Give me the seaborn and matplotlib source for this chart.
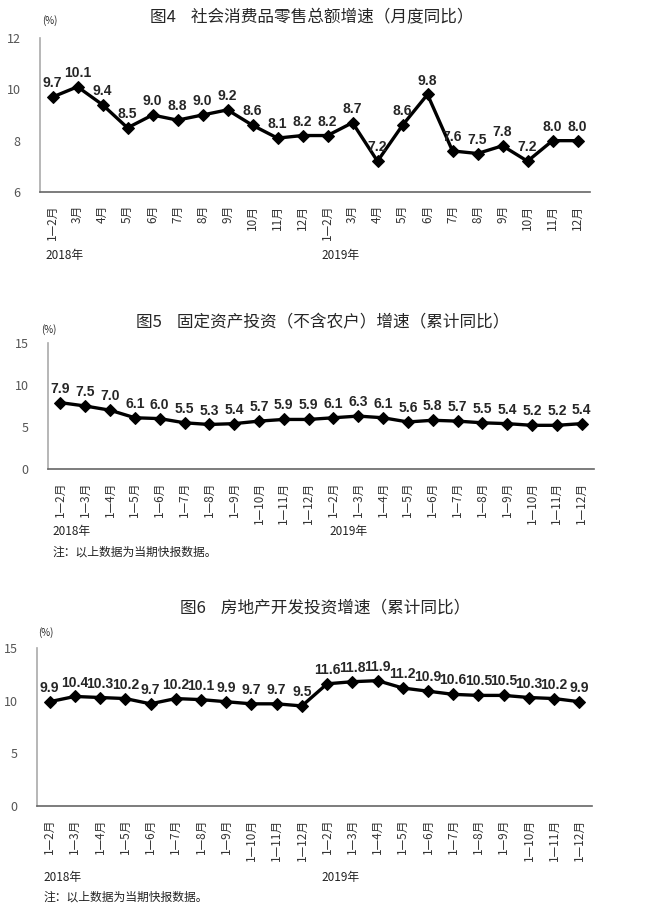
import numpy as np
import matplotlib
matplotlib.use('Agg')
import matplotlib.pyplot as plt
from matplotlib import font_manager
import seaborn as sns
import pandas as pd

sns.set_style('white')
plt.rcParams['font.family'] = ['Noto Sans CJK SC', 'DejaVu Sans']

# narrow font for the value labels, if there is one
names = {f.name for f in font_manager.fontManager.ttflist}
lab_font = 'Liberation Sans Narrow' if 'Liberation Sans Narrow' in names else 'Liberation Sans'
lab_size = 11 if lab_font == 'Liberation Sans Narrow' else 10

# data
months4 = ['1—2月', '3月', '4月', '5月', '6月', '7月', '8月', '9月', '10月', '11月', '12月'] * 2
months_cum = ['1—2月', '1—3月', '1—4月', '1—5月', '1—6月', '1—7月', '1—8月', '1—9月',
              '1—10月', '1—11月', '1—12月'] * 2
retail = [9.7, 10.1, 9.4, 8.5, 9.0, 8.8, 9.0, 9.2, 8.6, 8.1, 8.2,
          8.2, 8.7, 7.2, 8.6, 9.8, 7.6, 7.5, 7.8, 7.2, 8.0, 8.0]
fixed_inv = [7.9, 7.5, 7.0, 6.1, 6.0, 5.5, 5.3, 5.4, 5.7, 5.9, 5.9,
             6.1, 6.3, 6.1, 5.6, 5.8, 5.7, 5.5, 5.4, 5.2, 5.2, 5.4]
estate = [9.9, 10.4, 10.3, 10.2, 9.7, 10.2, 10.1, 9.9, 9.7, 9.7, 9.5,
          11.6, 11.8, 11.9, 11.2, 10.9, 10.6, 10.5, 10.5, 10.3, 10.2, 9.9]

titles = ['图4    社会消费品零售总额增速（月度同比）',
          '图5    固定资产投资（不含农户）增速（累计同比）',
          '图6    房地产开发投资增速（累计同比）']
note = '注：以上数据为当期快报数据。'

fig = plt.figure(figsize=(6.5, 9.1), dpi=100)

W, H = 650, 910
# (left, right, top, bottom) in pixels
boxes = [(40, 590, 38, 192), (48, 594, 343, 469), (37, 592, 648, 806)]
series = [retail, fixed_inv, estate]
labels = [months4, months_cum, months_cum]
ylims = [(6, 12), (0, 15), (0, 15)]
yticks = [[6, 8, 10, 12], [0, 5, 10, 15], [0, 5, 10, 15]]
title_pos = [(312, 18), (323, 323), (325, 608)]
pct_pos = [(42, 21), (41, 330), (38, 633)]
year_y = [256, 532, 877]
year_x = [(45, 321), (52, 329), (43, 321)]
note_y = [None, 552, 897]

for i in range(3):
    l, r, t, b = boxes[i]
    ax = fig.add_axes([l / W, 1 - b / H, (r - l) / W, (b - t) / H])
    df = pd.DataFrame({'x': np.arange(len(series[i])), 'v': series[i]})
    sns.lineplot(data=df, x='x', y='v', ax=ax, color='black', linewidth=2.4,
                 marker='D', markersize=6.5, markeredgecolor='black')
    for x, v in zip(df['x'], df['v']):
        ax.annotate(f'{v:.1f}', (x, v), xytext=(0, 5), textcoords='offset points',
                    ha='center', va='bottom', fontsize=lab_size, fontweight='bold',
                    family=[lab_font, 'DejaVu Sans'])
    n = len(series[i])
    ax.set_xlim(-0.5, n - 0.5)
    ax.set_ylim(*ylims[i])
    ax.set_yticks(yticks[i])
    ax.set_xticks(np.arange(n))
    ax.set_xticklabels(labels[i], rotation=90, fontsize=8.5, color='#333333')
    ax.set_xticks(np.arange(n + 1) - 0.5, minor=True)
    ax.tick_params(axis='x', which='major', length=0, pad=9)
    ax.tick_params(axis='x', which='minor', direction='in', length=3, color='#777777')
    ax.tick_params(axis='y', direction='in', length=3, color='#999999',
                   labelsize=9, labelcolor='#555555', pad=14)
    ax.set_xlabel('')
    ax.set_ylabel('')
    sns.despine(ax=ax)
    ax.spines['left'].set_color('#aaaaaa')
    ax.spines['bottom'].set_color('#666666')
    ax.spines['left'].set_linewidth(1.2)
    ax.spines['bottom'].set_linewidth(1.2)

    tx, ty = title_pos[i]
    fig.text(tx / W, 1 - ty / H, titles[i], ha='center', va='center', fontsize=12)
    px, py = pct_pos[i]
    fig.text(px / W, 1 - py / H, '(%)', ha='left', va='center', fontsize=7)
    fig.text(year_x[i][0] / W, 1 - year_y[i] / H, '2018年', ha='left', va='center',
             fontsize=8.5, color='#222222')
    fig.text(year_x[i][1] / W, 1 - year_y[i] / H, '2019年', ha='left', va='center',
             fontsize=8.5, color='#222222')
    if note_y[i] is not None:
        fig.text(year_x[i][0] / W, 1 - note_y[i] / H, note, ha='left', va='center',
                 fontsize=8.5, color='#222222')

fig.savefig('out.png', dpi=100)
